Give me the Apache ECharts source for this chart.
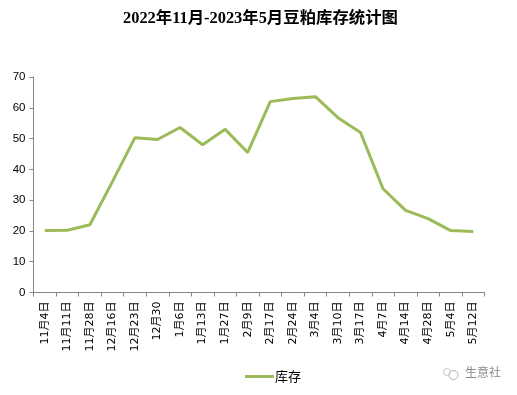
<!DOCTYPE html>
<html><head><meta charset="utf-8">
<style>html,body{margin:0;padding:0;background:#fff}#c{width:517px;height:395px}</style>
<script src="https://cdn.jsdelivr.net/npm/echarts@6/dist/echarts.min.js"></script>
</head><body><div id="c"></div>
<script>
const titleText = '2022年11月-2023年5月豆粕库存统计图';
const seriesName = '库存';
const categories = ['11月4日','11月11日','11月28日','12月16日','12月23日','12月30','1月6日','1月13日','1月27日','2月9日','2月17日','2月24日','3月4日','3月10日','3月17日','4月7日','4月14日','4月28日','5月4日','5月12日'];
const stock = [20.1,20.2,22,36,50.3,49.7,53.6,48,53,45.5,62,63,63.6,56.8,52,33.7,26.7,24,20.1,19.8];
const chart = echarts.init(document.getElementById('c'), null, {renderer:'canvas'});
chart.setOption({
  animation:false,
  backgroundColor:'#fff',
  title:{text:titleText,left:118,top:6,textStyle:{fontFamily:'"Liberation Serif","Noto Sans CJK SC"',fontSize:16.4,fontWeight:'bold',color:'#000'}},
  grid:{left:33.5,right:32.5,top:77,bottom:102.5,containLabel:false},
  legend:{data:[seriesName],top:370,left:245,itemWidth:29,itemHeight:3,itemGap:1,padding:0,icon:'rect',
    textStyle:{fontFamily:'"Noto Sans CJK SC"',fontSize:13,color:'#000',padding:[0,0,0,-4]}},
  xAxis:{type:'category',data:categories,boundaryGap:true,
    axisLine:{lineStyle:{color:'#868686',width:1}},
    axisTick:{show:true,alignWithLabel:false,length:4,lineStyle:{color:'#868686'},interval:0},
    axisLabel:{interval:0,rotate:90,margin:9,fontFamily:'"DejaVu Sans","Noto Sans CJK SC"',fontSize:11,color:'#000'},
    splitLine:{show:false}},
  yAxis:{type:'value',min:0,max:70,interval:10,
    axisLine:{show:true,lineStyle:{color:'#868686',width:1}},
    axisTick:{show:true,length:4,lineStyle:{color:'#868686'}},
    axisLabel:{margin:8,fontFamily:'"Liberation Sans"',fontSize:11.5,color:'#000'},
    splitLine:{show:false}},
  series:[{name:seriesName,type:'line',data:stock,symbol:'none',smooth:false,
    lineStyle:{color:'#9BBB59',width:3},itemStyle:{color:'#9BBB59'}}],
  graphic:[
    {type:'text',left:465,top:366,style:{text:'生意社',fontFamily:'"Noto Sans CJK SC"',fontSize:12,fill:'#8a8a8a'}},
    {type:'circle',shape:{cx:453.5,cy:375,r:4.5},style:{fill:'none',stroke:'#b0b0b0',lineWidth:1}},
    {type:'circle',shape:{cx:447,cy:372,r:3.5},style:{fill:'none',stroke:'#c8c8c8',lineWidth:1}}
  ]
});
</script></body></html>
